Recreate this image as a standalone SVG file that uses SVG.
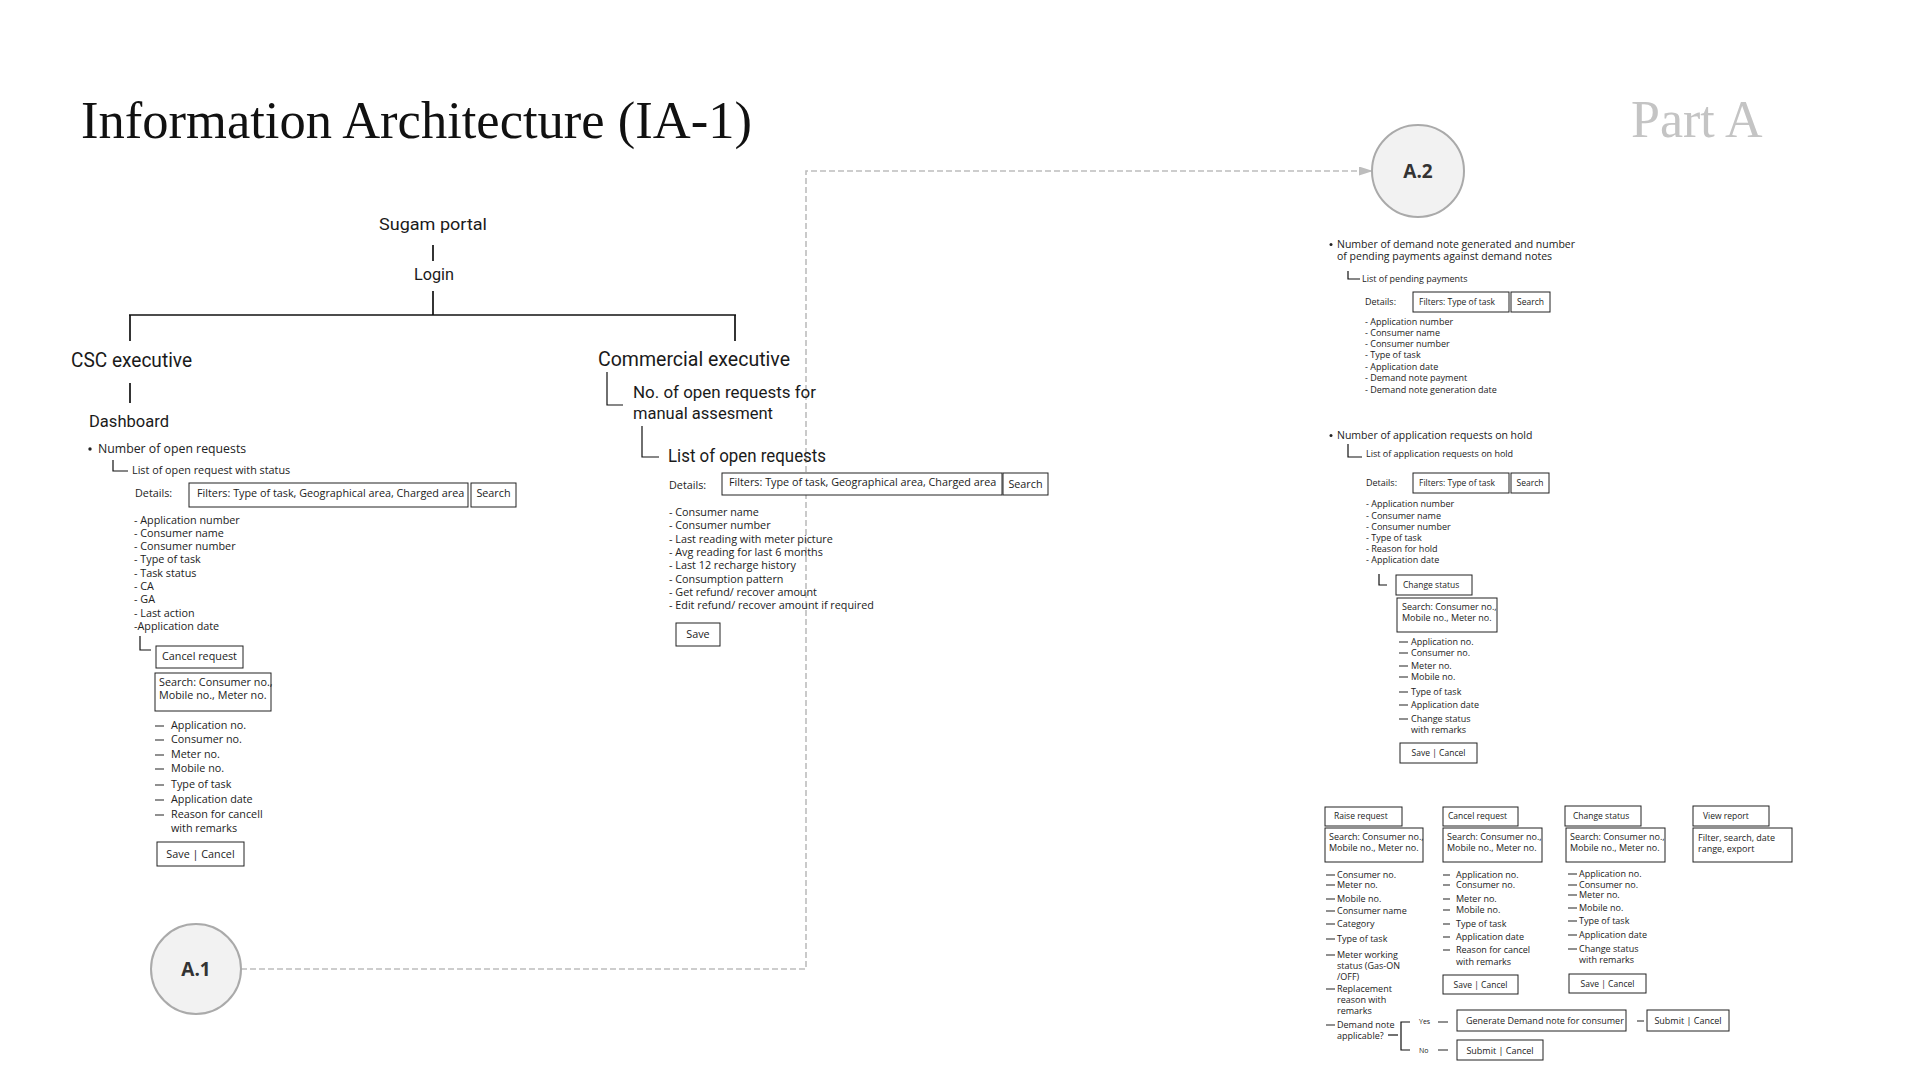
<svg xmlns="http://www.w3.org/2000/svg" width="1920" height="1080" viewBox="0 0 1920 1080">
<defs>
<style>
.bg{fill:#ffffff}
.title{font-family:"Liberation Serif","Times New Roman",serif;font-size:52px;fill:#111}
.part{font-family:"Liberation Serif","Times New Roman",serif;font-size:52px;fill:#c4c4c4}
.hdr{font-family:Roboto,"Liberation Sans",sans-serif;fill:#1a1a1a}
.t12{font-family:"Open Sans","Noto Sans",sans-serif;font-size:12.3px;fill:#222}
.t10{font-family:"Open Sans","Noto Sans",sans-serif;font-size:10.8px;fill:#222}
.t105{font-family:"Open Sans","Noto Sans",sans-serif;font-size:10.5px;fill:#222}
.t9{font-family:"Open Sans","Noto Sans",sans-serif;font-size:9px;fill:#222}
.t85{font-family:"Open Sans","Noto Sans",sans-serif;font-size:8.5px;fill:#222}
.t7{font-family:"Open Sans","Noto Sans",sans-serif;font-size:7px;fill:#222}
.mid{text-anchor:middle}
.box{fill:#ffffff;stroke:#222;stroke-width:1}
.tree{fill:none;stroke:#111;stroke-width:1.7}
.ln{fill:none;stroke:#111;stroke-width:1.2}
.dsh{fill:none;stroke:#222;stroke-width:1.1}
.link{fill:none;stroke:#bdbdbd;stroke-width:1.6;stroke-dasharray:6 3}
.circ{fill:#f2f2f2;stroke:#aaaaaa;stroke-width:2}
.ctext{font-family:"Open Sans","Noto Sans",sans-serif;font-size:19px;font-weight:700;fill:#333;text-anchor:middle}
</style>
<marker id="arr" markerUnits="userSpaceOnUse" markerWidth="14" markerHeight="9" refX="13" refY="4.5" orient="auto">
<path d="M0,0 L14,4.5 L0,9 z" fill="#bdbdbd"/>
</marker>
</defs>
<rect class="bg" x="0" y="0" width="1920" height="1080"/>

<g id="title"><text class="title" x="81" y="138" textLength="671" lengthAdjust="spacingAndGlyphs">Information Architecture (IA-1)</text></g>
<g id="part-a"><text class="part" x="1631" y="137">Part A</text></g>

<g id="connectors">
<path class="link" d="M241,969 H806 V171 H1372" marker-end="url(#arr)"/>
<path class="tree" d="M433,245 V261"/>
<path class="tree" d="M433,291 V315"/>
<path class="tree" d="M129,315 H736"/>
<path class="tree" d="M130,315 V341"/>
<path class="tree" d="M735,315 V341"/>
<path class="tree" d="M130,383 V403"/>
<path class="ln" d="M607,372 V405 H623"/>
<path class="ln" d="M642,426 V457 H659"/>
<path class="ln" d="M113,460 V471 H128"/>
<path class="ln" d="M140,636 V650 H151"/>
<path class="ln" d="M1348,271 V279 H1360"/>
<path class="ln" d="M1348,444 V457 H1362"/>
<path class="ln" d="M1379,574 V585 H1387"/>
<g id="dashes-left">
<path class="dsh" d="M155,726 H164 M155,740 H164 M155,755 H164 M155,769 H164 M155,785 H164 M155,800 H164 M155,815 H164"/>
</g>
<g id="dashes-hold">
<path class="dsh" d="M1399,642 H1408 M1399,653 H1408 M1399,666 H1408 M1399,677 H1408 M1399,692 H1408 M1399,705 H1408 M1399,719 H1408"/>
</g>
<g id="dashes-raise">
<path class="dsh" d="M1326,875 H1335 M1326,885 H1335 M1326,899 H1335 M1326,911 H1335 M1326,924 H1335 M1326,939 H1335 M1326,955 H1335 M1326,989 H1335 M1326,1025 H1335"/>
</g>
<g id="dashes-cancel">
<path class="dsh" d="M1443,875 H1450 M1443,885 H1450 M1443,899 H1450 M1443,910 H1450 M1443,924 H1450 M1443,937 H1450 M1443,950 H1450"/>
</g>
<g id="dashes-change">
<path class="dsh" d="M1568,874 H1577 M1568,885 H1577 M1568,895 H1577 M1568,908 H1577 M1568,921 H1577 M1568,935 H1577 M1568,949 H1577"/>
</g>
<path class="ln" d="M1388,1035 H1398"/>
<path class="ln" d="M1410,1022 H1401 V1050 H1410"/>
<path class="dsh" d="M1438,1022 H1448 M1438,1050 H1448 M1637,1021 H1644"/>
</g>

<g id="node-a1"><circle class="circ" cx="196" cy="969" r="45"/><text class="ctext" x="196" y="976">A.1</text></g>
<g id="node-a2"><circle class="circ" cx="1418" cy="171" r="46"/><text class="ctext" x="1418" y="178">A.2</text></g>

<g id="node-sugam"><text class="hdr" x="379" y="230" font-size="16.5" textLength="108" lengthAdjust="spacingAndGlyphs">Sugam portal</text></g>
<g id="node-login"><text class="hdr" x="414" y="280" font-size="16.5" textLength="40" lengthAdjust="spacingAndGlyphs">Login</text></g>
<g id="node-csc"><text class="hdr" x="71" y="367" font-size="20" textLength="121" lengthAdjust="spacingAndGlyphs">CSC executive</text></g>
<g id="node-dashboard"><text class="hdr" x="89" y="427" font-size="16.5" textLength="80" lengthAdjust="spacingAndGlyphs">Dashboard</text></g>
<g id="node-commercial"><text class="hdr" x="598" y="366" font-size="21" textLength="192" lengthAdjust="spacingAndGlyphs">Commercial executive</text></g>
<g id="node-manual">
<text class="hdr" x="633" y="398" font-size="17" textLength="183" lengthAdjust="spacingAndGlyphs">No. of open requests for</text>
<text class="hdr" x="633" y="419" font-size="17" textLength="140" lengthAdjust="spacingAndGlyphs">manual assesment</text>
</g>

<g id="node-open-requests-csc">
<circle cx="90" cy="449" r="1.7" fill="#222"/>
<text class="t12" x="98" y="453">Number of open requests</text>
<text class="t10" x="132" y="474">List of open request with status</text>
<text class="t10" x="135" y="497">Details:</text>
<rect class="box" x="189" y="483" width="279" height="24"/>
<text class="t10" x="197" y="497">Filters: Type of task, Geographical area, Charged area</text>
<rect class="box" x="471" y="483" width="45" height="24"/>
<text class="t10 mid" x="493.5" y="497">Search</text>
<text class="t10" x="134" y="524">- Application number</text>
<text class="t10" x="134" y="537">- Consumer name</text>
<text class="t10" x="134" y="550">- Consumer number</text>
<text class="t10" x="134" y="563">- Type of task</text>
<text class="t10" x="134" y="576.5">- Task status</text>
<text class="t10" x="134" y="590">- CA</text>
<text class="t10" x="134" y="603">- GA</text>
<text class="t10" x="134" y="616.5">- Last action</text>
<text class="t10" x="134" y="630">-Application date</text>
</g>

<g id="node-cancel-csc">
<rect class="box" x="156" y="646" width="87" height="22"/>
<text class="t10" x="162" y="660">Cancel request</text>
<rect class="box" x="155" y="673" width="116" height="38"/>
<text class="t10" x="159" y="686">Search: Consumer no.,</text>
<text class="t10" x="159" y="699">Mobile no., Meter no.</text>
<text class="t10" x="171" y="729">Application no.</text>
<text class="t10" x="171" y="743">Consumer no.</text>
<text class="t10" x="171" y="758">Meter no.</text>
<text class="t10" x="171" y="772">Mobile no.</text>
<text class="t10" x="171" y="788">Type of task</text>
<text class="t10" x="171" y="803">Application date</text>
<text class="t10" x="171" y="818">Reason for cancell</text>
<text class="t10" x="171" y="832">with remarks</text>
<rect class="box" x="157" y="842" width="87" height="24"/>
<text class="t10 mid" x="200.5" y="858">Save | Cancel</text>
</g>

<g id="node-open-requests-commercial">
<text class="hdr" x="668" y="462" font-size="18.5" textLength="158" lengthAdjust="spacingAndGlyphs">List of open requests</text>
<text class="t10" x="669" y="489">Details:</text>
<rect class="box" x="722" y="473" width="280" height="22"/>
<text class="t10" x="729" y="486">Filters: Type of task, Geographical area, Charged area</text>
<rect class="box" x="1003" y="473" width="45" height="22"/>
<text class="t10 mid" x="1025.5" y="488">Search</text>
<text class="t10" x="669" y="516">- Consumer name</text>
<text class="t10" x="669" y="529.3">- Consumer number</text>
<text class="t10" x="669" y="542.6">- Last reading with meter picture</text>
<text class="t10" x="669" y="556">- Avg reading for last 6 months</text>
<text class="t10" x="669" y="569.3">- Last 12 recharge history</text>
<text class="t10" x="669" y="582.6">- Consumption pattern</text>
<text class="t10" x="669" y="596">- Get refund/ recover amount</text>
<text class="t10" x="669" y="609.3">- Edit refund/ recover amount if required</text>
<rect class="box" x="676" y="623" width="44" height="23"/>
<text class="t10 mid" x="698" y="638">Save</text>
</g>

<g id="node-demand-notes">
<circle cx="1331" cy="244.5" r="1.5" fill="#222"/>
<text class="t105" x="1337" y="248">Number of demand note generated and number</text>
<text class="t105" x="1337" y="260">of pending payments against demand notes</text>
<text class="t9" x="1362" y="282">List of pending payments</text>
<text class="t9" x="1365" y="305">Details:</text>
<rect class="box" x="1413" y="292" width="96" height="20"/>
<text class="t85" x="1419" y="305">Filters: Type of task</text>
<rect class="box" x="1511" y="292" width="39" height="20"/>
<text class="t85 mid" x="1530.5" y="305">Search</text>
<text class="t9" x="1365" y="325">- Application number</text>
<text class="t9" x="1365" y="336">- Consumer name</text>
<text class="t9" x="1365" y="347">- Consumer number</text>
<text class="t9" x="1365" y="358">- Type of task</text>
<text class="t9" x="1365" y="369.5">- Application date</text>
<text class="t9" x="1365" y="381">- Demand note payment</text>
<text class="t9" x="1365" y="392.5">- Demand note generation date</text>
</g>

<g id="node-on-hold">
<circle cx="1331" cy="435.5" r="1.5" fill="#222"/>
<text class="t105" x="1337" y="439">Number of application requests on hold</text>
<text class="t9" x="1366" y="457">List of application requests on hold</text>
<text class="t9" x="1366" y="486">Details:</text>
<rect class="box" x="1413" y="473" width="96" height="20"/>
<text class="t85" x="1419" y="486">Filters: Type of task</text>
<rect class="box" x="1511" y="473" width="38" height="20"/>
<text class="t85 mid" x="1530" y="486">Search</text>
<text class="t9" x="1366" y="507">- Application number</text>
<text class="t9" x="1366" y="518.5">- Consumer name</text>
<text class="t9" x="1366" y="530">- Consumer number</text>
<text class="t9" x="1366" y="541">- Type of task</text>
<text class="t9" x="1366" y="552">- Reason for hold</text>
<text class="t9" x="1366" y="563">- Application date</text>
</g>

<g id="node-change-status-hold">
<rect class="box" x="1396" y="575" width="76" height="20"/>
<text class="t85" x="1403" y="588">Change status</text>
<rect class="box" x="1397" y="598" width="100" height="34"/>
<text class="t9" x="1402" y="610">Search: Consumer no.,</text>
<text class="t9" x="1402" y="621">Mobile no., Meter no.</text>
<text class="t9" x="1411" y="645">Application no.</text>
<text class="t9" x="1411" y="656">Consumer no.</text>
<text class="t9" x="1411" y="669">Meter no.</text>
<text class="t9" x="1411" y="680">Mobile no.</text>
<text class="t9" x="1411" y="695">Type of task</text>
<text class="t9" x="1411" y="708">Application date</text>
<text class="t9" x="1411" y="722">Change status</text>
<text class="t9" x="1411" y="733">with remarks</text>
<rect class="box" x="1400" y="743" width="77" height="20"/>
<text class="t85 mid" x="1438.5" y="756">Save | Cancel</text>
</g>

<g id="node-raise-request">
<rect class="box" x="1325" y="807" width="77" height="19"/>
<text class="t85" x="1334" y="819">Raise request</text>
<rect class="box" x="1325" y="828" width="98" height="34"/>
<text class="t9" x="1329" y="840">Search: Consumer no.,</text>
<text class="t9" x="1329" y="851">Mobile no., Meter no.</text>
<text class="t9" x="1337" y="878">Consumer no.</text>
<text class="t9" x="1337" y="888">Meter no.</text>
<text class="t9" x="1337" y="902">Mobile no.</text>
<text class="t9" x="1337" y="914">Consumer name</text>
<text class="t9" x="1337" y="927">Category</text>
<text class="t9" x="1337" y="942">Type of task</text>
<text class="t9" x="1337" y="958">Meter working</text>
<text class="t9" x="1337" y="969">status (Gas-ON</text>
<text class="t9" x="1337" y="980">/OFF)</text>
<text class="t9" x="1337" y="992">Replacement</text>
<text class="t9" x="1337" y="1003">reason with</text>
<text class="t9" x="1337" y="1014">remarks</text>
<text class="t9" x="1337" y="1028">Demand note</text>
<text class="t9" x="1337" y="1039">applicable?</text>
<text class="t7" x="1419" y="1024">Yes</text>
<text class="t7" x="1419" y="1053">No</text>
</g>

<g id="node-generate-demand">
<rect class="box" x="1457" y="1010" width="169" height="21"/>
<text class="t9" x="1466" y="1024">Generate Demand note for consumer</text>
</g>
<g id="node-submit-yes">
<rect class="box" x="1647" y="1010" width="82" height="21"/>
<text class="t9 mid" x="1688" y="1024">Submit | Cancel</text>
</g>
<g id="node-submit-no">
<rect class="box" x="1457" y="1040" width="86" height="20"/>
<text class="t9 mid" x="1500" y="1053.5">Submit | Cancel</text>
</g>

<g id="node-cancel-request">
<rect class="box" x="1443" y="807" width="75" height="19"/>
<text class="t85" x="1448" y="819">Cancel request</text>
<rect class="box" x="1443" y="828" width="99" height="34"/>
<text class="t9" x="1447" y="840">Search: Consumer no.,</text>
<text class="t9" x="1447" y="851">Mobile no., Meter no.</text>
<text class="t9" x="1456" y="878">Application no.</text>
<text class="t9" x="1456" y="888">Consumer no.</text>
<text class="t9" x="1456" y="902">Meter no.</text>
<text class="t9" x="1456" y="913">Mobile no.</text>
<text class="t9" x="1456" y="927">Type of task</text>
<text class="t9" x="1456" y="940">Application date</text>
<text class="t9" x="1456" y="953">Reason for cancel</text>
<text class="t9" x="1456" y="965">with remarks</text>
<rect class="box" x="1443" y="975" width="75" height="19"/>
<text class="t85 mid" x="1480.5" y="988">Save | Cancel</text>
</g>

<g id="node-change-status">
<rect class="box" x="1565" y="806" width="76" height="20"/>
<text class="t85" x="1573" y="819">Change status</text>
<rect class="box" x="1566" y="828" width="99" height="34"/>
<text class="t9" x="1570" y="840">Search: Consumer no.,</text>
<text class="t9" x="1570" y="851">Mobile no., Meter no.</text>
<text class="t9" x="1579" y="877">Application no.</text>
<text class="t9" x="1579" y="888">Consumer no.</text>
<text class="t9" x="1579" y="898">Meter no.</text>
<text class="t9" x="1579" y="911">Mobile no.</text>
<text class="t9" x="1579" y="924">Type of task</text>
<text class="t9" x="1579" y="938">Application date</text>
<text class="t9" x="1579" y="952">Change status</text>
<text class="t9" x="1579" y="963">with remarks</text>
<rect class="box" x="1569" y="974" width="77" height="19"/>
<text class="t85 mid" x="1607.5" y="987">Save | Cancel</text>
</g>

<g id="node-view-report">
<rect class="box" x="1693" y="806" width="76" height="20"/>
<text class="t85" x="1703" y="819">View report</text>
<rect class="box" x="1693" y="828" width="99" height="34"/>
<text class="t9" x="1698" y="841">Filter, search, date</text>
<text class="t9" x="1698" y="852">range, export</text>
</g>
</svg>
